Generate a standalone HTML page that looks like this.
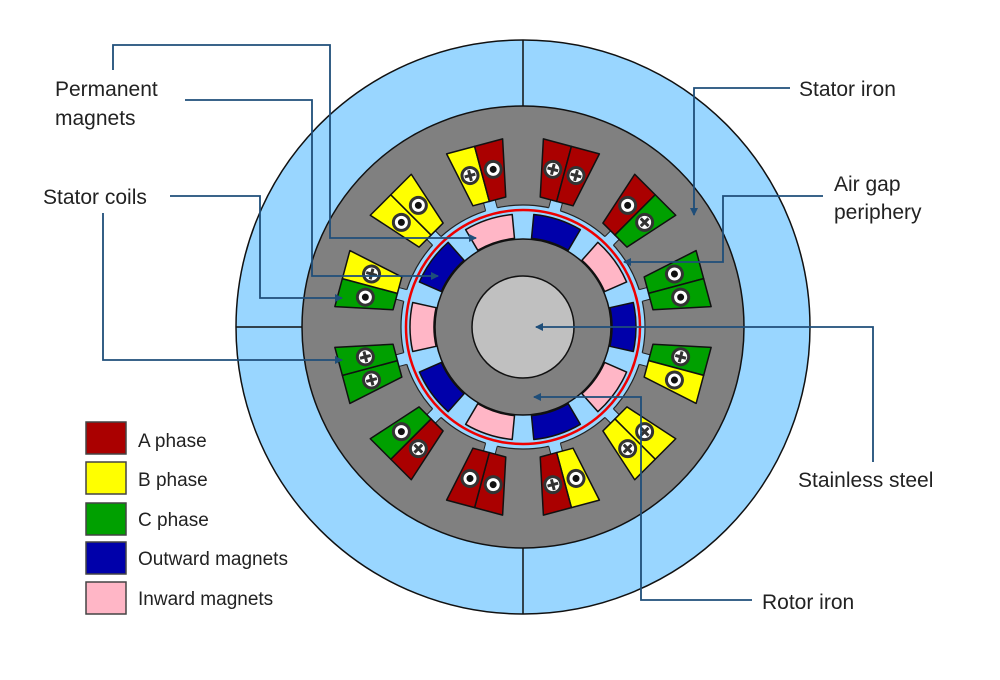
<!DOCTYPE html>
<html><head><meta charset="utf-8"><style>
html,body{margin:0;padding:0;background:#fff;}
svg{display:block;}
text{font-family:"Liberation Sans",sans-serif;fill:#222;}
</style></head><body>
<svg width="1000" height="680" viewBox="0 0 1000 680" xmlns="http://www.w3.org/2000/svg">
<defs>
<g id="dot"><circle r="8" fill="#fff" stroke="#333" stroke-width="3"/><circle r="3.5" fill="#111"/></g>
<g id="crs"><circle r="8" fill="#fff" stroke="#333" stroke-width="3"/><path d="M-5.5 0H5.5M0 -5.5V5.5" stroke="#333" stroke-width="3"/></g>
<path id="L" d="M-29 -187L0 -187L0 -130L-17 -130Z" stroke="#111" stroke-width="1.5" stroke-linejoin="round"/>
<path id="R" d="M0 -187L29 -187L17 -130L0 -130Z" stroke="#111" stroke-width="1.5" stroke-linejoin="round"/>
<g id="neck"><rect x="-6" y="-133" width="12" height="15" fill="#99d6ff"/><path d="M-6 -131V-122M6 -131V-122" stroke="#222" stroke-width="1"/></g>
<path id="mag" d="M-24.5 -110.3A113 113 0 0 1 24.5 -110.3L19.3 -86.9A89 89 0 0 0 -19.3 -86.9Z" stroke="#111" stroke-width="1.5" stroke-linejoin="round"/>
<marker id="ar" markerWidth="8" markerHeight="8" refX="7" refY="4" orient="auto" markerUnits="userSpaceOnUse"><path d="M0 0L8 4L0 8Z" fill="#1f4e79"/></marker>
</defs>
<g transform="translate(523,327)">
<circle r="287" fill="#99d6ff" stroke="#111" stroke-width="1.5"/>
<path d="M0 -287V-221M0 287V221M-287 0H-221" stroke="#111" stroke-width="1.5"/>
<circle r="221" fill="#808080" stroke="#111" stroke-width="1.5"/>
<circle r="122" fill="#99d6ff" stroke="#222" stroke-width="1.2"/>
<g>
<g transform="rotate(-15)"><use href="#neck"/><use href="#L" fill="#ffff00"/><use href="#R" fill="#aa0000"/><use href="#crs" x="-12" y="-160"/><use href="#dot" x="12" y="-160"/></g>
<g transform="rotate(15)"><use href="#neck"/><use href="#L" fill="#aa0000"/><use href="#R" fill="#aa0000"/><use href="#crs" x="-12" y="-160"/><use href="#crs" x="12" y="-160"/></g>
<g transform="rotate(45)"><use href="#neck"/><use href="#L" fill="#aa0000"/><use href="#R" fill="#00a000"/><use href="#dot" x="-12" y="-160"/><use href="#crs" x="12" y="-160"/></g>
<g transform="rotate(75)"><use href="#neck"/><use href="#L" fill="#00a000"/><use href="#R" fill="#00a000"/><use href="#dot" x="-12" y="-160"/><use href="#dot" x="12" y="-160"/></g>
<g transform="rotate(105)"><use href="#neck"/><use href="#L" fill="#00a000"/><use href="#R" fill="#ffff00"/><use href="#crs" x="-12" y="-160"/><use href="#dot" x="12" y="-160"/></g>
<g transform="rotate(135)"><use href="#neck"/><use href="#L" fill="#ffff00"/><use href="#R" fill="#ffff00"/><use href="#crs" x="-12" y="-160"/><use href="#crs" x="12" y="-160"/></g>
<g transform="rotate(165)"><use href="#neck"/><use href="#L" fill="#ffff00"/><use href="#R" fill="#aa0000"/><use href="#dot" x="-12" y="-160"/><use href="#crs" x="12" y="-160"/></g>
<g transform="rotate(195)"><use href="#neck"/><use href="#L" fill="#aa0000"/><use href="#R" fill="#aa0000"/><use href="#dot" x="-12" y="-160"/><use href="#dot" x="12" y="-160"/></g>
<g transform="rotate(225)"><use href="#neck"/><use href="#L" fill="#aa0000"/><use href="#R" fill="#00a000"/><use href="#crs" x="-12" y="-160"/><use href="#dot" x="12" y="-160"/></g>
<g transform="rotate(255)"><use href="#neck"/><use href="#L" fill="#00a000"/><use href="#R" fill="#00a000"/><use href="#crs" x="-12" y="-160"/><use href="#crs" x="12" y="-160"/></g>
<g transform="rotate(285)"><use href="#neck"/><use href="#L" fill="#00a000"/><use href="#R" fill="#ffff00"/><use href="#dot" x="-12" y="-160"/><use href="#crs" x="12" y="-160"/></g>
<g transform="rotate(315)"><use href="#neck"/><use href="#L" fill="#ffff00"/><use href="#R" fill="#ffff00"/><use href="#dot" x="-12" y="-160"/><use href="#dot" x="12" y="-160"/></g>
</g>
<circle r="117" fill="none" stroke="#ee0000" stroke-width="2.5"/>
<circle r="88" fill="#808080" stroke="#111" stroke-width="1.5"/>
<use href="#mag" fill="#0000aa" transform="rotate(18)"/>
<use href="#mag" fill="#0000aa" transform="rotate(90)"/>
<use href="#mag" fill="#0000aa" transform="rotate(162)"/>
<use href="#mag" fill="#0000aa" transform="rotate(234)"/>
<use href="#mag" fill="#0000aa" transform="rotate(306)"/>
<use href="#mag" fill="#ffb6c6" transform="rotate(54)"/>
<use href="#mag" fill="#ffb6c6" transform="rotate(126)"/>
<use href="#mag" fill="#ffb6c6" transform="rotate(198)"/>
<use href="#mag" fill="#ffb6c6" transform="rotate(270)"/>
<use href="#mag" fill="#ffb6c6" transform="rotate(342)"/>
<circle r="51" fill="#c0c0c0" stroke="#111" stroke-width="1.5"/>
</g>
<g fill="none" stroke="#1f4e79" stroke-width="1.8">
<path d="M113 70V45H330V238H476" marker-end="url(#ar)"/>
<path d="M185 100H312V276H438" marker-end="url(#ar)"/>
<path d="M170 196H260V298H342" marker-end="url(#ar)"/>
<path d="M103 213V360H342" marker-end="url(#ar)"/>
<path d="M790 88H694V215" marker-end="url(#ar)"/>
<path d="M823 196H723V262H624" marker-end="url(#ar)"/>
<path d="M873 462V327H536" marker-end="url(#ar)"/>
<path d="M752 600H641V397H534" marker-end="url(#ar)"/>
</g>
<g font-size="21">
<text x="55" y="96">Permanent</text>
<text x="55" y="125">magnets</text>
<text x="43" y="204">Stator coils</text>
<text x="799" y="96">Stator iron</text>
<text x="834" y="191">Air gap</text>
<text x="834" y="219">periphery</text>
<text x="798" y="487">Stainless steel</text>
<text x="762" y="609">Rotor iron</text>
</g>
<g stroke="#444" stroke-width="1.5">
<rect x="86" y="422" width="40" height="32" fill="#aa0000"/>
<rect x="86" y="462" width="40" height="32" fill="#ffff00"/>
<rect x="86" y="503" width="40" height="32" fill="#00a000"/>
<rect x="86" y="542" width="40" height="32" fill="#0000aa"/>
<rect x="86" y="582" width="40" height="32" fill="#ffb6c6"/>
</g>
<g font-size="19">
<text x="138" y="447">A phase</text>
<text x="138" y="486">B phase</text>
<text x="138" y="526">C phase</text>
<text x="138" y="565">Outward magnets</text>
<text x="138" y="605">Inward magnets</text>
</g>
</svg>
</body></html>
